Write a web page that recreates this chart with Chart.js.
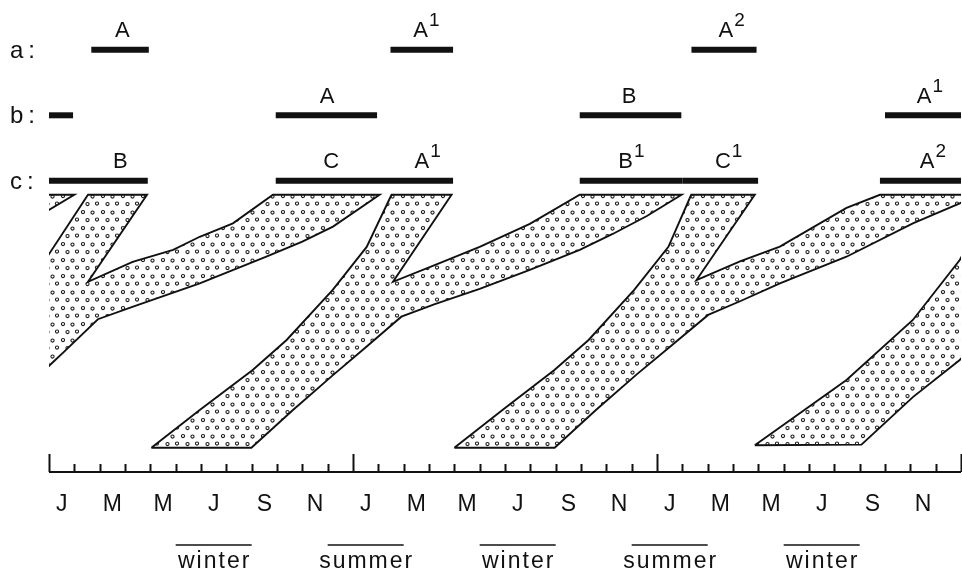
<!DOCTYPE html>
<html>
<head>
<meta charset="utf-8">
<script src="https://cdn.jsdelivr.net/npm/chart.js@4.4.0/dist/chart.umd.min.js"></script>
<style>
  html, body { margin: 0; padding: 0; background: #fff; }
  canvas { display: block; }
</style>
</head>
<body>
<canvas id="cohortChart" width="962" height="580"></canvas>
<script>
// month letters under the axis, one every two months over three years
const monthLabels = ['J','M','M','J','S','N','J','M','M','J','S','N','J','M','M','J','S','N'];
const yearStarts = [0, 12, 24, 36];
const seasons = [
    { name: 'winter', from: 5, to: 8 },
    { name: 'summer', from: 11, to: 14 },
    { name: 'winter', from: 17, to: 20 },
    { name: 'summer', from: 23, to: 26 },
    { name: 'winter', from: 29, to: 32 }
];

// rows a, b, c (row value on the row axis)
const rowNames = [{ name: 'a', row: 3 }, { name: 'b', row: 2 }, { name: 'c', row: 1 }];

// bars: [from month, to month]
const rowA = [[1.67, 3.94], [13.48, 15.95], [25.36, 27.93]];
const rowB = [[0, 0.95], [8.95, 12.95], [20.95, 24.96], [33.0, 36]];
const rowC = [[0, 3.9], [8.95, 13.5], [13.5, 15.95], [20.95, 25.0], [25.0, 27.99], [32.8, 36]];

// bar labels: [month, text, superscript]
const labelsA = [[2.89, 'A', ''], [14.9, 'A', '1'], [26.95, 'A', '2']];
const labelsB = [[10.98, 'A', ''], [22.9, 'B', ''], [34.77, 'A', '1']];
const labelsC = [[2.82, 'B', ''], [11.14, 'C', ''], [14.95, 'A', '1'], [22.99, 'B', '1'], [26.83, 'C', '1'], [34.89, 'A', '2']];

// cohort bands as outlines: [month, size]
const cohort0 = [[-3.05, 100], [1.0, 100], [-0.4, 91.6], [-1.75, 84.5], [-3.05, 78.2], [-5.0, 70.3], [-7.0, 62.8], [-3.05, 100]];
const cohort1 = [[-8.0, 0], [-6.05, 14.9], [-3.96, 30.7], [-2.6, 42.6], [-0.8, 62.4], [-0.1, 75], [1.54, 100],
    [3.87, 100], [1.54, 65.6], [3.3, 73.5], [4.9, 78.2], [5.95, 83.4], [7.26, 88.7], [8.84, 100],
    [13.05, 100], [11.21, 87.4], [10.0, 81.5], [8.58, 75.5], [5.95, 65.0], [3.32, 55.8], [1.93, 50.8],
    [0.6, 38.0], [-0.1, 31.4], [-2.4, 14.9], [-4.0, 0], [-8.0, 0]];
const cohort2 = [[4.04, 0], [5.95, 14.9], [8.04, 30.7], [9.38, 42.6], [11.2, 62.4], [12.54, 79.4], [13.52, 100],
    [15.89, 100], [13.58, 65.6], [15.42, 73.0], [17.0, 79.4], [18.98, 88.5], [20.95, 100],
    [24.97, 100], [23.6, 91.6], [22.25, 84.5], [20.95, 78.2], [18.98, 70.3], [17.0, 62.8], [15.23, 56.8], [13.91, 51.8],
    [12.53, 39.9], [11.21, 28.7], [9.63, 14.9], [7.99, 0], [4.04, 0]];
const cohort3 = [[16.0, 0], [17.9, 14.9], [19.95, 30.7], [21.3, 42.6], [23.1, 62.4], [24.45, 79.4], [25.35, 100],
    [27.86, 100], [25.56, 66.3], [27.3, 73.8], [28.85, 79.5], [31.48, 94.8], [32.8, 100],
    [36.5, 100], [35.95, 96.6], [34.1, 88.7], [31.48, 75.5], [28.85, 65.0], [27.3, 58.0], [26.02, 52.5],
    [24.55, 40.2], [23.2, 29.0], [21.6, 15.0], [19.96, 0], [16.0, 0]];
const cohort4 = [[27.86, 1], [29.9, 15.5], [31.48, 26.8], [34.1, 50.5], [35.95, 74.2], [36.6, 86], [37.5, 100],
    [40.0, 100], [38.0, 55], [35.95, 34.7], [34.1, 20.0], [32.07, 1.2], [27.86, 1]];

const font = '"Liberation Sans", Arial, sans-serif';

// dotted fill for the bands (small hollow circles)
const dotTile = document.createElement('canvas');
dotTile.width = 20;
dotTile.height = 16;
const tctx = dotTile.getContext('2d');
tctx.strokeStyle = '#1a1a1a';
tctx.lineWidth = 1.05;
[[3, 4], [12.5, 4.5], [7.5, 12], [17, 11.5]].forEach(([x, y]) => {
    tctx.beginPath();
    tctx.arc(x, y, 1.6, 0, Math.PI * 2);
    tctx.stroke();
});
const dotPattern = tctx.createPattern(dotTile, 'repeat');

const datasets = [];

[cohort0, cohort1, cohort2, cohort3, cohort4].forEach(c => {
    datasets.push({
        data: c.map(p => ({ x: p[0], y: p[1] })),
        yAxisID: 'y',
        borderColor: '#111',
        borderWidth: 1.9,
        backgroundColor: dotPattern,
        fill: 'shape',
        pointRadius: 0,
        tension: 0
    });
});

[[rowA, 3], [rowB, 2], [rowC, 1]].forEach(([bars, row]) => {
    bars.forEach(b => {
        datasets.push({
            data: [{ x: b[0], y: row }, { x: b[1], y: row }],
            yAxisID: 'yr',
            borderColor: '#111',
            borderWidth: 6,
            borderCapStyle: 'butt',
            pointRadius: 0,
            fill: false
        });
    });
});

// axis, ticks, month letters, seasons and text labels
const figureText = {
    id: 'figureText',
    afterDraw(chart) {
        const ctx = chart.ctx;
        const xs = chart.scales.x;
        const yr = chart.scales.yr;
        const area = chart.chartArea;
        const axisY = area.bottom - 1;
        ctx.save();
        ctx.strokeStyle = '#111';
        ctx.fillStyle = '#111';

        // axis line and month ticks
        ctx.lineWidth = 2;
        ctx.beginPath();
        ctx.moveTo(xs.left, axisY);
        ctx.lineTo(xs.right, axisY);
        for (let m = 0; m <= 36; m++) {
            const x = Math.round(xs.getPixelForValue(m)) + 0.5;
            const h = yearStarts.includes(m) ? 18 : 8;
            ctx.moveTo(x, axisY);
            ctx.lineTo(x, axisY - h);
        }
        ctx.stroke();

        // month letters
        ctx.font = '23px ' + font;
        ctx.textAlign = 'center';
        ctx.textBaseline = 'alphabetic';
        monthLabels.forEach((l, i) => {
            ctx.fillText(l, xs.getPixelForValue(i * 2 + 0.5), 511);
        });

        // seasons
        ctx.lineWidth = 1.6;
        ctx.font = '23px ' + font;
        ctx.letterSpacing = '2px';
        seasons.forEach(s => {
            const x0 = xs.getPixelForValue(s.from);
            const x1 = xs.getPixelForValue(s.to);
            ctx.beginPath();
            ctx.moveTo(x0, 545);
            ctx.lineTo(x1, 545);
            ctx.stroke();
            ctx.fillText(s.name, (x0 + x1) / 2 + 1, 568);
        });

        // row names
        ctx.textAlign = 'left';
        ctx.font = '24px ' + font;
        ctx.letterSpacing = '5px';
        rowNames.forEach(r => {
            ctx.fillText(r.name + ':', 10, yr.getPixelForValue(r.row) + 8);
        });
        ctx.letterSpacing = '0px';

        // bar labels with superscripts
        const drawLabel = (m, row, text, sup) => {
            const cx = xs.getPixelForValue(m);
            const base = yr.getPixelForValue(row) - 12.5;
            ctx.font = '22px ' + font;
            const w1 = ctx.measureText(text).width;
            ctx.font = '19px ' + font;
            const w2 = sup ? ctx.measureText(sup).width + 1 : 0;
            const x0 = cx - (w1 + w2) / 2;
            ctx.font = '22px ' + font;
            ctx.fillText(text, x0, base);
            if (sup) {
                ctx.font = '19px ' + font;
                ctx.fillText(sup, x0 + w1 + 1, base - 11);
            }
        };
        labelsA.forEach(l => drawLabel(l[0], 3, l[1], l[2]));
        labelsB.forEach(l => drawLabel(l[0], 2, l[1], l[2]));
        labelsC.forEach(l => drawLabel(l[0], 1, l[1], l[2]));

        ctx.restore();
    }
};

new Chart(document.getElementById('cohortChart').getContext('2d'), {
    type: 'line',
    data: { datasets: datasets },
    options: {
        responsive: false,
        animation: false,
        events: [],
        layout: { padding: { left: 49, right: 1, top: 0, bottom: 107 } },
        plugins: {
            legend: { display: false },
            tooltip: { enabled: false }
        },
        scales: {
            x: { type: 'linear', min: 0, max: 36, display: false },
            y: { type: 'linear', min: -10, max: 177, display: false },
            yr: { type: 'linear', min: -3.46, max: 3.76, display: false }
        }
    },
    plugins: [figureText]
});
</script>
</body>
</html>
